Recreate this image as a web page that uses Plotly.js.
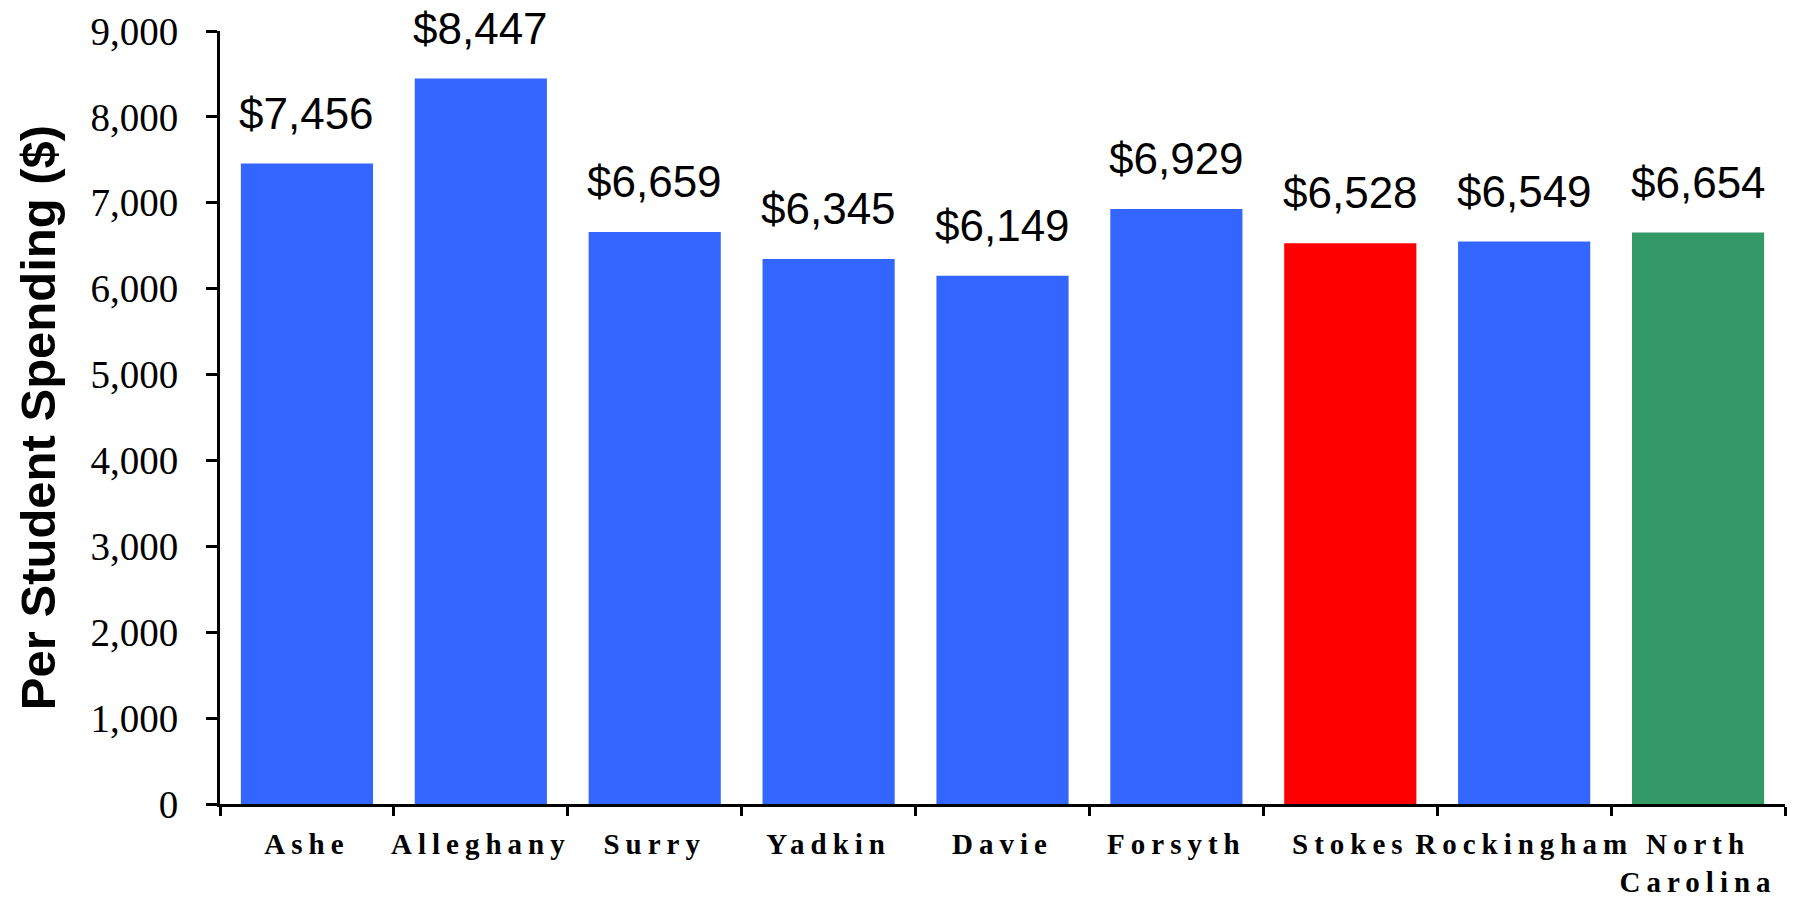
<!DOCTYPE html>
<html>
<head>
<meta charset="utf-8">
<script src="https://cdn.plot.ly/plotly-3.0.1.min.js"></script>
<style>
html,body{margin:0;padding:0;background:#fff;}
#chart{width:1794px;height:898px;}
.xtick text{letter-spacing:6px;}
</style>
</head>
<body>
<div id="chart"></div>
<script>
var categories = ["Ashe","Alleghany","Surry","Yadkin","Davie","Forsyth","Stokes","Rockingham","North<br>Carolina"];
var spending = [7456, 8447, 6659, 6345, 6149, 6929, 6528, 6549, 6654];
var barColors = ["#3366FF","#3366FF","#3366FF","#3366FF","#3366FF","#3366FF","#FF0000","#3366FF","#339966"];
var yTickVals = [0,1000,2000,3000,4000,5000,6000,7000,8000,9000];

var labels = spending.map(function(v){ return "$" + v.toLocaleString("en-US"); });

var trace = {
  type: "bar",
  x: categories,
  y: spending,
  marker: {color: barColors, line: {width: 0}},
  hoverinfo: "x+y",
  width: 0.76
};

var annotations = categories.map(function(c, i){
  return {
    x: c, y: spending[i], xref: "x", yref: "y",
    text: labels[i], showarrow: false,
    yanchor: "bottom", yshift: 24,
    font: {family: "Liberation Sans, Arial, sans-serif", size: 44, color: "#000"}
  };
});

var layout = {
  width: 1794, height: 898,
  margin: {l: 220, r: 9, t: 31, b: 94},
  paper_bgcolor: "#fff", plot_bgcolor: "#fff",
  showlegend: false,
  bargap: 0.24,
  xaxis: {
    type: "category",
    showgrid: false, zeroline: false,
    showline: true, linecolor: "#000", linewidth: 3,
    ticks: "outside", tickson: "boundaries", ticklen: 9, tickwidth: 3, tickcolor: "#000",
    tickfont: {family: "Liberation Serif, Times New Roman, serif", size: 29, color: "#000", weight: "bold"},
    tickangle: 0,
    ticklabelstandoff: 12,
    automargin: false
  },
  yaxis: {
    range: [0, 9000],
    tickvals: yTickVals,
    tickformat: ",d",
    showgrid: false, zeroline: false,
    showline: true, linecolor: "#000", linewidth: 3,
    ticks: "outside", ticklen: 11, tickwidth: 3, tickcolor: "#000",
    tickfont: {family: "Liberation Serif, Times New Roman, serif", size: 39, color: "#000"},
    ticklabelstandoff: 20,
    title: {
      text: "Per Student Spending ($)",
      font: {family: "Liberation Sans, Arial, sans-serif", size: 49, color: "#000", weight: "bold"},
      standoff: 20
    },
    automargin: true
  },
  annotations: annotations
};

Plotly.newPlot("chart", [trace], layout, {displayModeBar: false, staticPlot: true});
</script>
</body>
</html>
